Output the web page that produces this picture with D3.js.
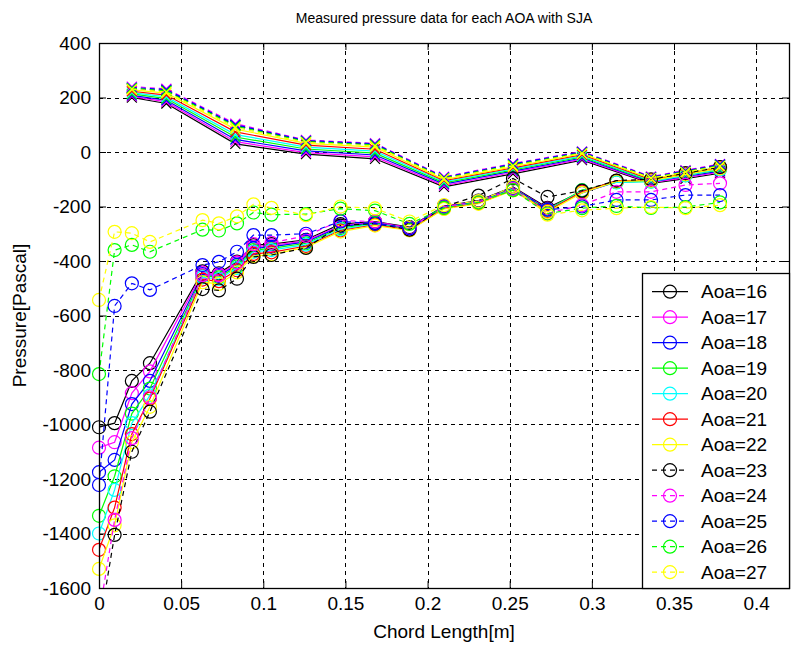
<!DOCTYPE html>
<html><head><meta charset="utf-8">
<script src="https://cdn.jsdelivr.net/npm/d3@7"></script>
<style>
body{margin:0;background:#fff;}
text{font-family:Arial,"Liberation Sans",Helvetica,sans-serif;fill:#000;}
</style>
</head><body>
<svg id="chart" width="795" height="650"></svg>
<script>
// ---------------- data ----------------
const seriesNames = ["Aoa=16","Aoa=17","Aoa=18","Aoa=19","Aoa=20","Aoa=21","Aoa=22","Aoa=23","Aoa=24","Aoa=25","Aoa=26","Aoa=27"];
const seriesColors = ["#000000","#ff00ff","#0000ff","#00ff00","#00ffff","#ff0000","#ffff00","#000000","#ff00ff","#0000ff","#00ff00","#ffff00"];
const seriesDashed = [false,false,false,false,false,false,false,true,true,true,true,true];

// chord positions of the lower (circle) branch and upper (x) branch
const chordLower = [0, 0.0095, 0.02, 0.031, 0.063, 0.073, 0.084, 0.094, 0.105, 0.126, 0.147, 0.168, 0.189, 0.21, 0.231, 0.252, 0.273, 0.294, 0.315, 0.336, 0.357, 0.378];
const chordUpper = [0.02, 0.041, 0.083, 0.126, 0.168, 0.21, 0.252, 0.294, 0.336, 0.357, 0.378];

const lower16 = [-1010,-995,-840,-775,-438,-445,-402,-342,-338,-322,-265,-255,-276,-198,-178,-128,-205,-145,-106,-104,-78,-56];
const lower17 = [-1085,-1065,-885,-805,-443,-450,-408,-348,-343,-326,-270,-257,-278,-200,-180,-131,-208,-148,-108,-106,-81,-59];
const lower18 = [-1175,-1130,-925,-840,-448,-455,-414,-354,-348,-330,-274,-260,-280,-202,-182,-133,-210,-150,-110,-107,-83,-61];
const lower19 = [-1335,-1190,-960,-868,-454,-460,-420,-360,-354,-335,-279,-262,-282,-204,-184,-135,-212,-140,-111,-108,-85,-62];
const lower20 = [-1400,-1240,-995,-893,-460,-466,-426,-366,-360,-340,-284,-265,-284,-205,-186,-137,-215,-142,-112,-109,-86,-63];
const lower21 = [-1460,-1305,-1035,-905,-468,-474,-434,-374,-368,-345,-288,-267,-286,-207,-188,-139,-217,-145,-106,-103,-80,-58];
const lower22 = [-1530,-1370,-1065,-935,-478,-484,-442,-382,-376,-350,-292,-270,-288,-209,-190,-141,-220,-150,-108,-105,-82,-60];
const lower23 = [-1750,-1405,-1100,-953,-503,-508,-465,-385,-378,-352,-270,-262,-285,-200,-160,-97,-165,-142,-105,-100,-78,-55];
const lower24 = [-1700,-1350,-1050,-900,-452,-452,-405,-338,-333,-308,-252,-255,-280,-200,-184,-135,-225,-195,-146,-146,-121,-115];
const lower25 = [-1222,-565,-482,-506,-415,-403,-366,-305,-305,-300,-255,-262,-280,-198,-180,-130,-212,-200,-176,-176,-158,-158];
const lower26 = [-815,-360,-341,-366,-285,-288,-262,-222,-230,-228,-208,-215,-264,-205,-185,-140,-226,-206,-198,-205,-202,-185];
const lower27 = [-543,-293,-298,-330,-250,-262,-236,-192,-205,-232,-200,-207,-255,-195,-180,-128,-230,-214,-206,-202,-206,-195];

const upper16 = [200,178,30,-8,-25,-128,-80,-30,-115,-98,-78];
const upper17 = [204,184,38,-2,-18,-123,-75,-26,-112,-94,-74];
const upper18 = [208,190,46,4,-11,-118,-70,-22,-110,-90,-70];
const upper19 = [213,196,55,11,-4,-113,-66,-18,-107,-86,-66];
const upper20 = [218,202,64,18,3,-109,-62,-14,-104,-83,-62];
const upper21 = [223,209,74,25,10,-105,-58,-10,-101,-80,-58];
const upper22 = [228,216,84,32,18,-101,-54,-6,-98,-77,-55];
const upper23 = [233,226,98,40,28,-95,-46,-1,-93,-70,-48];
const upper24 = [240,232,104,44,32,-91,-42,2,-90,-67,-44];
const upper25 = [236,229,100,42,30,-93,-44,0,-92,-69,-46];
const upper26 = [234,224,95,38,26,-96,-48,-3,-95,-72,-50];
const upper27 = [231,220,90,35,22,-98,-51,-5,-96,-74,-52];

const xTickValues = [0,0.05,0.1,0.15,0.2,0.25,0.3,0.35,0.4];
const xTickLabels = ["0","0.05","0.1","0.15","0.2","0.25","0.3","0.35","0.4"];
const yTickValues = [-1600,-1400,-1200,-1000,-800,-600,-400,-200,0,200,400];
const yTickLabels = ["-1600","-1400","-1200","-1000","-800","-600","-400","-200","0","200","400"];

const titleText = "Measured pressure data for each AOA with SJA";
const xLabelText = "Chord Length[m]";
const yLabelText = "Pressure[Pascal]";

// ---------------- build table ----------------
const lowerAll = [lower16,lower17,lower18,lower19,lower20,lower21,lower22,lower23,lower24,lower25,lower26,lower27];
const upperAll = [upper16,upper17,upper18,upper19,upper20,upper21,upper22,upper23,upper24,upper25,upper26,upper27];
const series = seriesNames.map((name,i)=>({
  name, color: seriesColors[i], dashed: seriesDashed[i],
  lower: chordLower.map((c,j)=>({x:c,y:lowerAll[i][j]})),
  upper: chordUpper.map((c,j)=>({x:c,y:upperAll[i][j]}))
}));

// ---------------- layout ----------------
const L=99, R=789, T=43, B=588;
const x = d3.scaleLinear().domain([0,0.42]).range([L,R]);
const y = d3.scaleLinear().domain([-1600,400]).range([B,T]);
const DASH = "5,4";
const inRange = d => d.y >= -1600 && d.y <= 400;

const svg = d3.select("#chart");
svg.append("rect").attr("width",795).attr("height",650).attr("fill","#fff");

// grid
const grid = svg.append("g").attr("stroke","#000").attr("stroke-width",1).attr("stroke-dasharray","4,4");
grid.selectAll("line.gx").data(xTickValues.filter(v=>v>0)).join("line")
  .attr("x1",d=>Math.round(x(d))+0.5).attr("x2",d=>Math.round(x(d))+0.5).attr("y1",T).attr("y2",B);
grid.selectAll("line.gy").data(yTickValues.filter(v=>v>-1600 && v<400)).join("line")
  .attr("y1",d=>Math.round(y(d))+0.5).attr("y2",d=>Math.round(y(d))+0.5).attr("x1",L).attr("x2",R);

// axes
const fs = "19px";
const xAxis = svg.append("g").attr("transform",`translate(0,${B})`)
  .call(d3.axisBottom(x).tickValues(xTickValues).tickFormat((d,i)=>xTickLabels[i]).tickSize(-7).tickSizeOuter(0).tickPadding(9));
const xAxisTop = svg.append("g").attr("transform",`translate(0,${T})`)
  .call(d3.axisTop(x).tickValues(xTickValues).tickFormat("").tickSize(-7).tickSizeOuter(0));
const yAxis = svg.append("g").attr("transform",`translate(${L},0)`)
  .call(d3.axisLeft(y).tickValues(yTickValues).tickFormat((d,i)=>yTickLabels[i]).tickSize(-7).tickSizeOuter(0).tickPadding(8));
const yAxisRight = svg.append("g").attr("transform",`translate(${R},0)`)
  .call(d3.axisRight(y).tickValues(yTickValues).tickFormat("").tickSize(-7).tickSizeOuter(0));
[xAxis,xAxisTop,yAxis,yAxisRight].forEach(g=>{
  g.select(".domain").remove();
  g.selectAll("line").attr("stroke","#000");
  g.selectAll("text").attr("font-size",fs).attr("font-family","Arial, 'Liberation Sans', sans-serif").attr("fill","#000");
});

// clip for lines
svg.append("clipPath").attr("id","plotclip").append("rect").attr("x",L).attr("y",T).attr("width",R-L).attr("height",B-T);
const plot = svg.append("g");

const line = d3.line().x(d=>x(d.x)).y(d=>y(d.y));
series.forEach(s=>{
  const g = plot.append("g");
  const lg1 = g.append("g").attr("clip-path","url(#plotclip)");
  lg1.append("path").datum(s.lower).attr("d",line).attr("fill","none").attr("stroke",s.color)
    .attr("stroke-width",1.2).attr("stroke-dasharray",s.dashed?DASH:null);
  lg1.append("path").datum(s.upper).attr("d",line).attr("fill","none").attr("stroke",s.color)
    .attr("stroke-width",1.2).attr("stroke-dasharray",s.dashed?DASH:null);
  g.selectAll("circle").data(s.lower.filter(inRange)).join("circle")
    .attr("cx",d=>x(d.x)).attr("cy",d=>y(d.y)).attr("r",6.5)
    .attr("fill","none").attr("stroke",s.color).attr("stroke-width",1.2);
  g.selectAll("path.xm").data(s.upper.filter(inRange)).join("path").attr("class","xm")
    .attr("d",d=>{const cx=x(d.x),cy=y(d.y),h=5;return `M${cx-h},${cy-h}L${cx+h},${cy+h}M${cx-h},${cy+h}L${cx+h},${cy-h}`;})
    .attr("stroke",s.color).attr("stroke-width",1.2).attr("fill","none");
});

// box
svg.append("rect").attr("x",L+0.5).attr("y",T+0.5).attr("width",R-L).attr("height",B-T)
  .attr("fill","none").attr("stroke","#000").attr("stroke-width",1.3);

// titles
svg.append("text").attr("x",(L+R)/2).attr("y",23).attr("text-anchor","middle").attr("font-size","14px").text(titleText);
svg.append("text").attr("x",(L+R)/2).attr("y",638).attr("text-anchor","middle").attr("font-size",fs).text(xLabelText);
svg.append("text").attr("transform",`translate(26,${(T+B)/2}) rotate(-90)`).attr("text-anchor","middle").attr("font-size",fs).text(yLabelText);

// legend
const lgX0=642, lgY0=273, lgW=R-lgX0, lgH=B-lgY0, rowH=25.5, row0=291.7;
const lg = svg.append("g");
lg.append("rect").attr("x",lgX0+0.5).attr("y",lgY0+0.5).attr("width",lgW).attr("height",lgH)
  .attr("fill","#fff").attr("stroke","#000").attr("stroke-width",1.3);
series.forEach((s,i)=>{
  const cy=row0+i*rowH;
  lg.append("line").attr("x1",652).attr("x2",688).attr("y1",cy).attr("y2",cy)
    .attr("stroke",s.color).attr("stroke-width",1.2).attr("stroke-dasharray",s.dashed?DASH:null);
  lg.append("circle").attr("cx",670).attr("cy",cy).attr("r",6.5).attr("fill","none").attr("stroke",s.color).attr("stroke-width",1.2);
  lg.append("text").attr("x",701).attr("y",cy).attr("dy","0.35em").attr("font-size",fs).text(s.name);
});
</script>
</body></html>
